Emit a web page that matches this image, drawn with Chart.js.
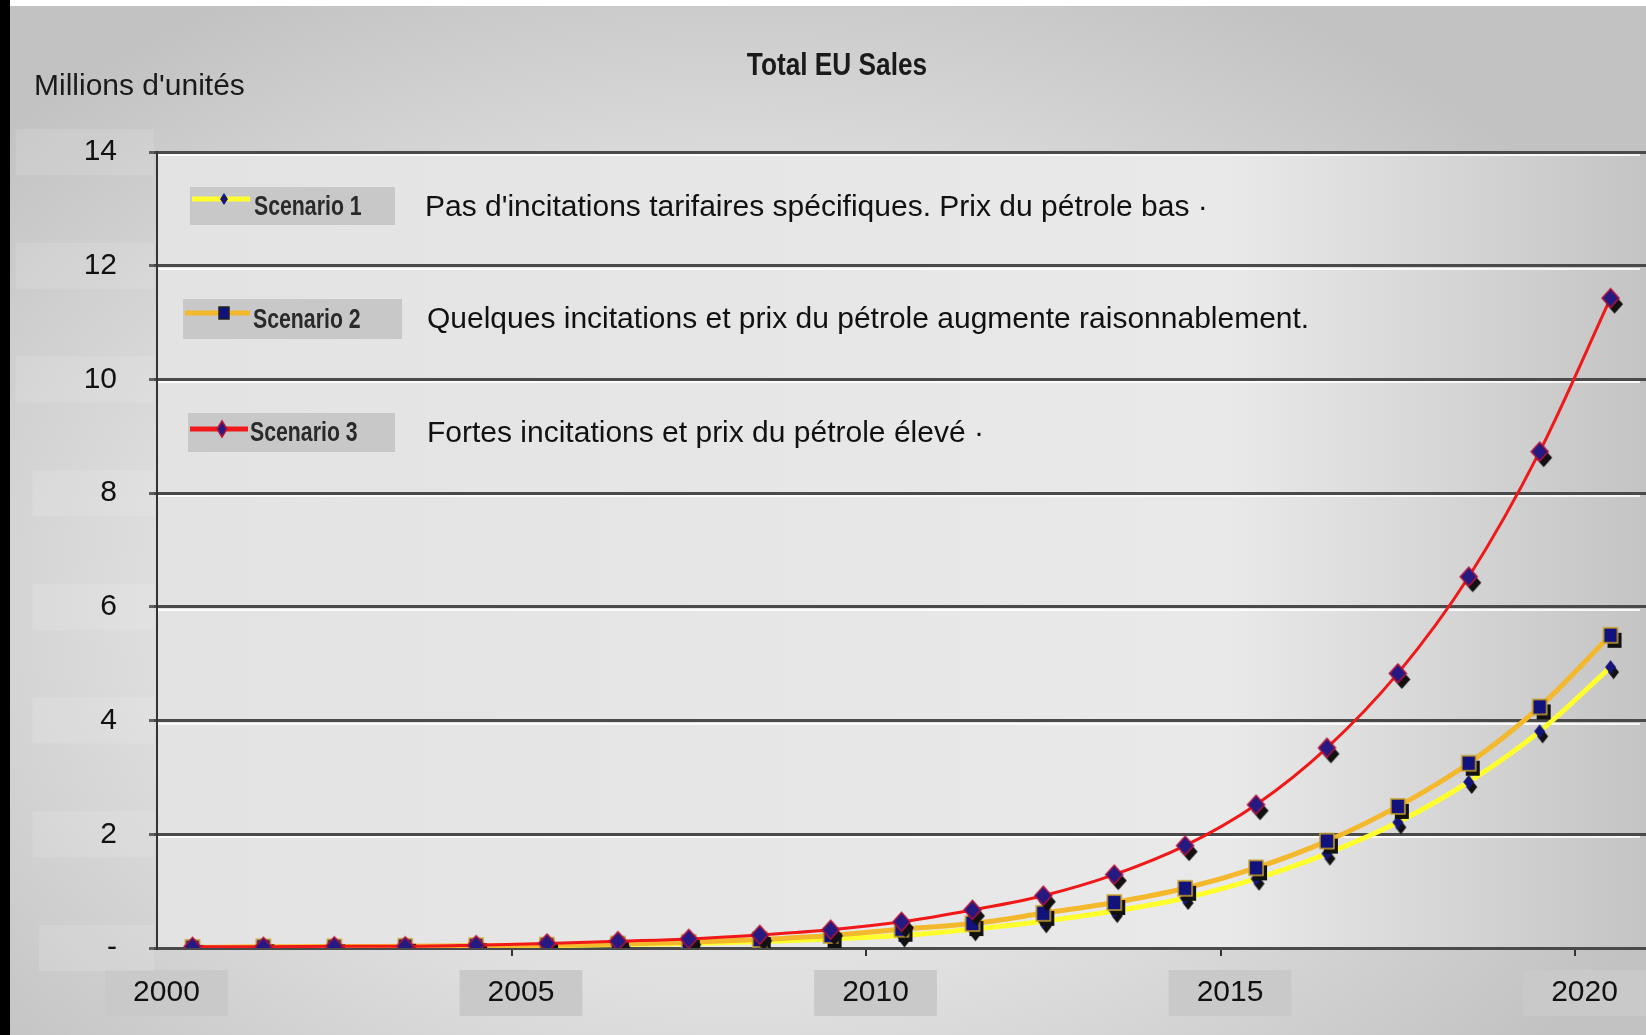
<!DOCTYPE html>
<html>
<head>
<meta charset="utf-8">
<title>Total EU Sales</title>
<script src="https://cdn.jsdelivr.net/npm/chart.js@4.4.1/dist/chart.umd.min.js"></script>
<style>
html,body{margin:0;padding:0;}
body{width:1646px;height:1035px;overflow:hidden;background:linear-gradient(to right,#000 10px,#fff 10px);}
#fond{position:absolute;left:10px;top:6px;width:1636px;height:1029px;
  background:radial-gradient(ellipse 62% 68% at 45% 58%,#ececec 0%,#e0e0e0 55%,#c2c2c2 100%);}
canvas{display:block;}
</style>
</head>
<body>
<div id="fond"><canvas id="grafico" width="1636" height="1029"></canvas></div>
<script>
// DADOS
const anos = ["2000","2001","2002","2003","2004","2005","2006","2007","2008","2009","2010",
              "2011","2012","2013","2014","2015","2016","2017","2018","2019","2020"];
const cenario1 = [0.01,0.01,0.02,0.02,0.03,0.04,0.06,0.08,0.11,0.16,0.22,0.33,0.47,0.65,0.88,1.22,1.66,2.21,2.92,3.81,4.94];
const cenario2 = [0.01,0.02,0.02,0.03,0.04,0.05,0.07,0.10,0.15,0.22,0.33,0.43,0.61,0.80,1.05,1.41,1.88,2.49,3.25,4.24,5.50];
const cenario3 = [0.02,0.02,0.03,0.03,0.05,0.08,0.12,0.16,0.23,0.32,0.46,0.67,0.92,1.29,1.80,2.52,3.52,4.83,6.53,8.73,11.43];
const nomes = ["Scenario 1","Scenario 2","Scenario 3"];
const descricoes = [
    "Pas d'incitations tarifaires spécifiques. Prix du pétrole bas ·",
    "Quelques incitations et prix du pétrole augmente raisonnablement.",
    "Fortes incitations et prix du pétrole élevé ·"
];
const titulo = "Total EU Sales";
const unidade = "Millions d'unités";

const fonte = "'Liberation Sans', Arial, sans-serif";
Chart.defaults.font.family = fonte;

// MARCADORES (losango / quadrado com sombra)
function marcador(forma, rx, ry, cor, borda, dx, dy){
    const m = Math.max(dx, dy);
    const w = Math.ceil((rx + m + 2) * 2);
    const h = Math.ceil((ry + m + 2) * 2);
    const c = document.createElement("canvas");
    c.width = w; c.height = h;
    const g = c.getContext("2d");
    const desenha = (x, y) => {
        g.beginPath();
        if(forma === "losango"){
            g.moveTo(x, y-ry); g.lineTo(x+rx, y); g.lineTo(x, y+ry); g.lineTo(x-rx, y);
        } else {
            g.rect(x-rx, y-ry, 2*rx, 2*ry);
        }
        g.closePath();
    };
    if(dx || dy){
        desenha(w/2+dx, h/2+dy);
        g.fillStyle = "#111";
        g.fill();
    }
    desenha(w/2, h/2);
    g.fillStyle = cor;
    g.fill();
    if(borda){
        g.lineWidth = 1.5;
        g.strokeStyle = borda;
        g.stroke();
    }
    return c;
}

const marca1 = marcador("losango", 5.5, 7, "#14147a", null, 3, 5);
const marca2 = marcador("quadrado", 7, 7.5, "#12127c", "#c9a227", 4, 5);
const marca3 = marcador("losango", 8.5, 9.5, "#241a82", "#b8123c", 4, 6);
const legMarcas = [
    marcador("losango", 4, 6, "#14147a", null, 0, 0),
    marcador("quadrado", 5, 6, "#12127c", "#222", 0, 0),
    marcador("losango", 5, 8, "#241a82", "#b8123c", 0, 0)
];

// posicoes da legenda (caixa, linha de amostra, textos)
const legPos = [
    {x:180, y:181, w:205, h:38, linhaY:193, marcaX:214, textoX:244, descX:415, descY:202},
    {x:173, y:293, w:219, h:40, linhaY:307, marcaX:214, textoX:243, descX:417, descY:314},
    {x:178, y:407, w:207, h:39, linhaY:423, marcaX:212, textoX:240, descX:417, descY:428}
];

// texto estreito (fonte comprimida na horizontal)
function textoEstreito(ctx, txt, x, y, escala){
    ctx.save();
    ctx.translate(x, y);
    ctx.scale(escala, 1);
    ctx.fillText(txt, 0, 0);
    ctx.restore();
}

// FUNDO DA AREA DO GRAFICO + TEXTOS
const textosPlugin = {
    id: "textos",
    beforeDraw(chart){
        const {ctx, chartArea:a} = chart;
        const g = ctx.createLinearGradient(a.left, 0, a.right, 0);
        g.addColorStop(0, "#e3e3e3");
        g.addColorStop(0.72, "#e9e9e9");
        g.addColorStop(1, "#c4c4c4");
        ctx.save();
        ctx.fillStyle = g;
        ctx.fillRect(a.left, a.top, a.right-a.left, a.bottom-a.top);
        ctx.restore();
    },
    beforeDatasetsDraw(chart){
        // reflexo claro sob cada linha de grade
        const {ctx, chartArea:a, scales:{y}} = chart;
        ctx.save();
        ctx.strokeStyle = "rgba(255,255,255,0.85)";
        ctx.lineWidth = 2;
        y.ticks.forEach(t => {
            const py = Math.round(y.getPixelForValue(t.value)) + 3;
            if(py > a.bottom) return;
            ctx.beginPath();
            ctx.moveTo(a.left + 1, py);
            ctx.lineTo(a.right - 6, py);
            ctx.stroke();
        });
        ctx.restore();
    },
    afterDraw(chart){
        const ctx = chart.ctx;
        ctx.save();
        ctx.fillStyle = "#1a1a1a";
        ctx.textBaseline = "middle";
        ctx.font = "bold 32px " + fonte;
        ctx.textAlign = "center";
        textoEstreito(ctx, titulo, 827, 60, 0.82);
        ctx.font = "30px " + fonte;
        ctx.textAlign = "left";
        ctx.fillText(unidade, 24, 81);

        chart.data.datasets.forEach((ds, i) => {
            const p = legPos[i];
            ctx.fillStyle = "#c8c8c8";
            ctx.fillRect(p.x, p.y, p.w, p.h);
            ctx.strokeStyle = ds.borderColor;
            ctx.lineWidth = 5;
            ctx.beginPath();
            ctx.moveTo(p.x+2, p.linhaY);
            ctx.lineTo(p.marcaX+26, p.linhaY);
            ctx.stroke();
            const mk = legMarcas[i];
            ctx.drawImage(mk, p.marcaX - mk.width/2, p.linhaY - mk.height/2);
            ctx.fillStyle = "#2a2a2a";
            ctx.font = "bold 28px " + fonte;
            textoEstreito(ctx, ds.label, p.textoX, p.y + p.h/2 + 1, 0.76);
            ctx.fillStyle = "#111";
            ctx.font = "30px " + fonte;
            ctx.fillText(descricoes[i], p.descX, p.descY);
        });
        ctx.restore();
    }
};

const ctxGraf = document.getElementById("grafico").getContext("2d");
const grafico = new Chart(ctxGraf, {
    type: "line",
    data: {
        labels: anos,
        datasets: [
            {label:nomes[0], data:cenario1, borderColor:"#ffff2e", borderWidth:5,
             cubicInterpolationMode:"monotone", pointStyle:marca1, order:3},
            {label:nomes[1], data:cenario2, borderColor:"#f4b82c", borderWidth:5,
             cubicInterpolationMode:"monotone", pointStyle:marca2, order:2},
            {label:nomes[2], data:cenario3, borderColor:"#f01818", borderWidth:3,
             cubicInterpolationMode:"monotone", pointStyle:marca3, order:1}
        ]
    },
    options: {
        responsive: false,
        animation: false,
        layout: {autoPadding: false, padding: {left:0, right:0, top:146, bottom:0}},
        plugins: {
            legend: {display:false},
            title: {display:false},
            tooltip: {enabled:false}
        },
        scales: {
            x: {
                offset: true,
                grid: {
                    offset: true,
                    drawOnChartArea: false,
                    tickLength: 8,
                    lineWidth: 2,
                    color: c => (c.index % 5 === 0 && c.index > 0) ? "#333" : "rgba(0,0,0,0)"
                },
                border: {display:true, color:"#4a4a4a", width:3},
                ticks: {
                    autoSkip: false,
                    maxRotation: 0,
                    padding: 19,
                    labelOffset: -26,
                    color: "#111",
                    font: {size:30},
                    callback: function(v, i){ return i % 5 === 0 ? this.getLabelForValue(v) : ""; },
                    showLabelBackdrop: c => c.index % 5 === 0,
                    backdropColor: "#c9c9c9",
                    backdropPadding: {x:28, y:5}
                },
                afterFit: s => { s.height = 87; s.paddingLeft = 0; s.paddingRight = 0; }
            },
            y: {
                min: 0,
                max: 14,
                grid: {color:"#4a4a4a", lineWidth:3, tickLength:8},
                border: {display:true, color:"#333", width:2},
                ticks: {
                    stepSize: 2,
                    padding: 32,
                    color: "#111",
                    font: {size:30},
                    callback: v => v === 0 ? "-" : v,
                    showLabelBackdrop: true,
                    backdropColor: "rgba(255,255,255,0.12)",
                    backdropPadding: {top:5, bottom:5, left:68, right:37}
                },
                afterFit: s => { s.width = 147; }
            }
        }
    },
    plugins: [textosPlugin]
});
</script>
</body>
</html>
